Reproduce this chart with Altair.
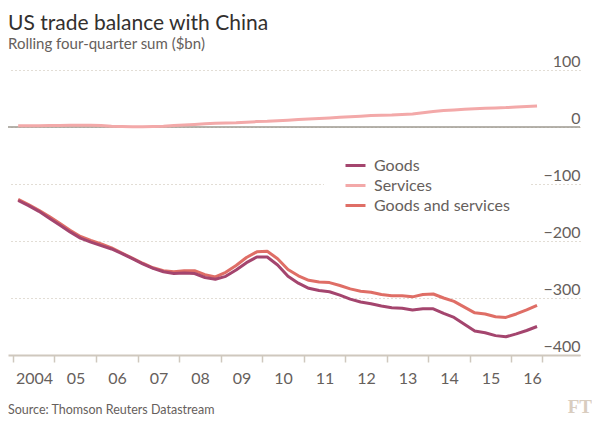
import altair as alt
import pandas as pd

# ---- data ----
quarters = [f"{y}Q{q}" for y in range(2004, 2017) for q in range(1, 5)][:51]  # 2004Q1 .. 2016Q3

goods = [-129, -138, -148, -160, -172, -184, -195, -202, -208, -214,
         -222, -231, -240, -248, -254, -257, -256, -257, -264, -267,
         -262, -251, -238, -228, -228, -242, -262, -274, -283, -287,
         -289, -295, -302, -307, -310, -314, -317, -318, -321, -319,
         -319, -327, -334, -346, -358, -361, -366, -368, -363, -357,
         -350]

services = [2, 2, 2, 2.5, 2.5, 3, 3, 3, 2.5, 1.5,
            1, 0.5, 0.5, 1, 1.5, 2.5, 3.5, 4.5, 5.5, 6.5,
            7, 7.5, 8.5, 9.5, 10, 11, 12, 13, 14, 15,
            16, 17, 18, 19, 20, 20.5, 21, 22, 23, 25,
            27, 29, 30, 31, 32, 33, 33.5, 34, 35, 36,
            37]

goods_services = [-127, -136, -146, -157, -169, -181, -192, -199, -205, -212,
                  -221, -230, -239, -247, -252, -254, -252, -252, -259, -263,
                  -255, -243, -229, -219, -218, -231, -250, -261, -269, -272,
                  -273, -278, -284, -288, -290, -294, -296, -296, -298, -294,
                  -293, -300, -306, -316, -326, -328, -333, -334, -328, -321,
                  -313]

series_names = ["Goods", "Services", "Goods and services"]
series_colors = ["#a4456e", "#f3a9a9", "#df6e66"]
year_ticks = list(range(2004, 2017))
end_tick = 2016.75
y_ticks = [-400, -300, -200, -100, 0, 100]

title_text = "US trade balance with China"
subtitle_text = "Rolling four-quarter sum ($bn)"
source_text = "Source: Thomson Reuters Datastream"


def quarter_pos(q):
    # mid-quarter position in decimal years
    return int(q[:4]) + (int(q[-1]) - 1) * 0.25 + 0.125


rows = []
for name, vals in zip(series_names, [goods, services, goods_services]):
    for q, v in zip(quarters, vals):
        rows.append({"quarter": q, "t": quarter_pos(q), "series": name, "value": v})
df = pd.DataFrame(rows)

W, H = 572, 285
TXT = "#66605c"
FONT = "Lato"

x_enc = alt.X(
    "t:Q",
    scale=alt.Scale(domain=[2003.88, 2017.66], nice=False, zero=False),
    axis=alt.Axis(
        title=None,
        values=year_ticks + [end_tick],
        labelExpr="datum.value === 2004 ? '2004' : (datum.value % 1 === 0 ? format(datum.value % 100, '02d') : '')",
        labelOffset=21,
        labelAlign="center",
        labelFontSize=16,
        labelFont=FONT,
        labelColor=TXT,
        labelPadding=8,
        labelFlush=False,
        labelOverlap=False,
        ticks=True,
        tickSize=7,
        tickWidth=1.5,
        tickColor="#cfc8be",
        domain=True,
        domainColor="#cfc8be",
        domainWidth=2,
        grid=False,
    ),
)

y_enc = alt.Y(
    "value:Q",
    scale=alt.Scale(domain=[-400, 100], nice=False, zero=False),
    axis=alt.Axis(
        title=None,
        orient="right",
        values=y_ticks,
        labelAlign="right",
        labelBaseline="alphabetic",
        labelOffset=-4,
        labelPadding=0,
        labelFontSize=16,
        labelFont=FONT,
        labelColor=TXT,
        labelFlush=False,
        labelOverlap=False,
        ticks=False,
        tickSize=0,
        domain=False,
        grid=True,
        gridColor="#c4baab",
        gridDash=[1, 3],
        gridWidth=1,
    ),
)

color_enc = alt.Color(
    "series:N",
    scale=alt.Scale(domain=series_names, range=series_colors),
    legend=alt.Legend(
        title=None,
        orient="none",
        legendX=316,
        legendY=64,
        symbolType="stroke",
        symbolSize=400,
        symbolStrokeWidth=3,
        labelFontSize=16,
        labelFont=FONT,
        labelColor=TXT,
        labelOffset=7,
        rowPadding=0,
        padding=20,
        fillColor="white",
    ),
)

base = alt.Chart(df).encode(x=x_enc, y=y_enc, color=color_enc)

zero_rule = alt.Chart(pd.DataFrame({"value": [0]})).mark_rule(
    color="#9d998f", strokeWidth=1.5
).encode(y=alt.Y("value:Q"))

lines = [
    base.transform_filter(alt.datum.series == name).mark_line(strokeWidth=3, strokeJoin="round")
    for name in ["Services", "Goods and services", "Goods"]
]

source = alt.Chart(pd.DataFrame({"txt": [source_text]})).mark_text(
    align="left", baseline="alphabetic", fontSize=12.5, font=FONT, color=TXT
).encode(x=alt.value(0), y=alt.value(344), text="txt:N")

ft_logo = alt.Chart(pd.DataFrame({"txt": ["FT"]})).mark_text(
    align="right", baseline="alphabetic", fontSize=19, font="Liberation Serif",
    fontWeight="bold", color="#d9cdbf"
).encode(x=alt.value(584), y=alt.value(343), text="txt:N")

chart = alt.layer(zero_rule, *lines, source, ft_logo).properties(
    width=W,
    height=H,
    title=alt.TitleParams(
        text=title_text,
        subtitle=subtitle_text,
        anchor="start",
        frame="group",
        font=FONT,
        fontSize=21,
        fontWeight="normal",
        color="#33302e",
        subtitleFont=FONT,
        subtitleFontSize=15,
        subtitleColor=TXT,
        subtitlePadding=3,
        offset=1,
    ),
    autosize=alt.AutoSizeParams(type="none"),
    padding={"left": 0, "top": 62, "right": 12, "bottom": 63},
).configure(
    font=FONT, background="white", view=alt.ViewConfig(stroke=None)
)

chart.save("out.html", embed_options={"renderer": "svg", "actions": False})
